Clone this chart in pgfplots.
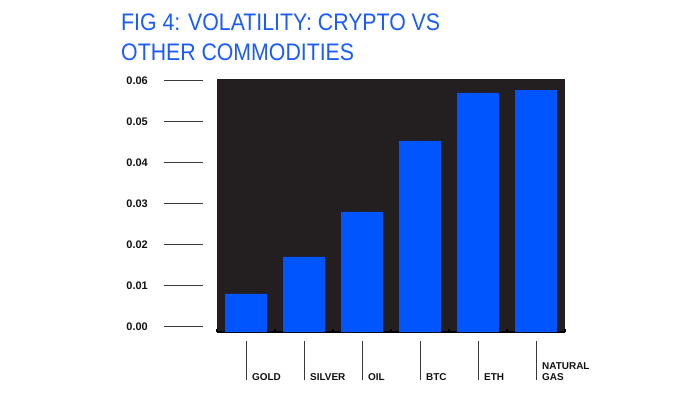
\documentclass[border=0pt]{standalone}
\usepackage{pgfplots}
\pgfplotsset{compat=1.18}
\usepackage{fontspec}
\setmainfont{Liberation Sans}
\usepackage{graphicx}
\definecolor{barblue}{HTML}{0055FF}
\definecolor{titleblue}{HTML}{1A5BFF}
\definecolor{darkbg}{HTML}{231F20}
\definecolor{tickgray}{HTML}{3A3A3A}
\definecolor{labelblack}{HTML}{111111}
\newcommand{\xl}[1]{\textcolor{tickgray}{\rule{0.9bp}{39bp}}\hspace{5.5bp}#1}
\begin{document}
\begin{tikzpicture}[x=1bp,y=1bp]
\useasboundingbox (0,0) rectangle (700,401);
\node[anchor=base west, inner sep=0, text=titleblue, font=\fontsize{24}{30}\selectfont] at (121,371) {\scalebox{0.89}[1]{FIG 4: VOLATILITY: CRYPTO VS}};
\node[anchor=base west, inner sep=0, text=titleblue, font=\fontsize{24}{30}\selectfont] at (121,341) {\scalebox{0.89}[1]{OTHER COMMODITIES}};
\begin{axis}[
  at={(217bp,69bp)}, anchor=south west,
  width=348bp, height=253bp, scale only axis,
  xmin=-0.5, xmax=5.5, ymin=0, ymax=0.0617,
  axis background/.style={fill=darkbg},
  axis x line=bottom, axis y line=left,
  y axis line style={draw=none},
  x axis line style={-, draw=black, line width=1.5bp},
  /pgf/number format/assume math mode=true,
  scaled y ticks=false,
  xtick={0,1,2,3,4,5},
  xticklabels={\xl{GOLD}, \xl{SILVER}, \xl{OIL}, \xl{BTC}, \xl{ETH}, \xl{\begin{tabular}[b]{@{}l@{}}NATURAL\\GAS\end{tabular}}},
  minor xtick={-0.5,0.5,1.5,2.5,3.5,4.5,5.5},
  major tick length=0pt,
  minor tick length=3bp,
  tick align=inside,
  minor tick style={black, line width=2bp},
  xticklabel style={anchor=base west, inner sep=0pt, yshift=-48bp, xshift=-0.45bp, text=labelblack, font=\fontsize{10}{11}\selectfont\bfseries},
  ytick={0,0.01,0.02,0.03,0.04,0.05,0.06},
  yticklabel={\pgfmathprintnumber[fixed,fixed zerofill,precision=2]{\tick}\hspace{16bp}{\color{tickgray}\rule[3.6bp]{39bp}{0.9bp}}},
  yticklabel style={anchor=east, inner sep=0pt, xshift=-14bp, yshift=5bp, text=labelblack, font=\fontsize{11}{13}\selectfont\bfseries},
]
\addplot[ybar, fill=barblue, draw=none, bar width=42bp] coordinates {(0,0.0093) (1,0.0183) (2,0.0293) (3,0.0466) (4,0.0583) (5,0.0590)};
\end{axis}
\end{tikzpicture}
\end{document}
